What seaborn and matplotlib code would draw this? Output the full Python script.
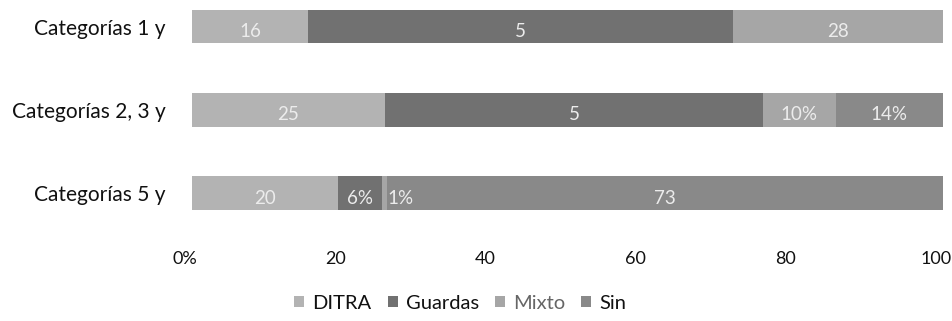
import numpy as np
import pandas as pd
import seaborn as sns
from matplotlib import pyplot as plt
from matplotlib.patches import Patch
from matplotlib.transforms import ScaledTranslation

sns.set_style("white")
plt.rcParams['font.family'] = ['Lato', 'DejaVu Sans']

categories = ['Categorías 1 y', 'Categorías 2, 3 y', 'Categorías 5 y']
series = ['DITRA', 'Guardas', 'Mixto', 'Sin']
ditra = [15.5, 25.7, 19.5]
guardas = [56.5, 50.3, 5.8]
mixto = [28, 9.7, 0.7]
sin = [0, 14.3, 74]
# labels as printed on the bars (some truncated in the original)
bar_labels = [
    ['16', '5', '28', ''],
    ['25', '5', '10%', '14%'],
    ['20', '6%', '1%', '73'],
]
tick_vals = [0, 20, 40, 60, 80, 100]
tick_labels = ['0%', '20', '40', '60', '80', '100']
legend_text_colors = ['#111111', '#111111', '#666666', '#111111']

colors = ['#b3b3b3', '#717171', '#a6a6a6', '#898989']

values = np.array([ditra, guardas, mixto, sin]).T
cum = values.cumsum(axis=1)

fig = plt.figure(figsize=(9.53, 3.21), dpi=100)
ax = fig.add_axes([0.2015, 0.308, 0.788, 0.686])

# stacked bars: draw cumulative totals from the last series back to the first
for j in reversed(range(len(series))):
    df = pd.DataFrame({'cat': categories, 'val': cum[:, j]})
    sns.barplot(data=df, x='val', y='cat', orient='h', color=colors[j],
                width=0.4, saturation=1, ax=ax, edgecolor='none')

for i in range(len(categories)):
    for j in range(len(series)):
        txt = bar_labels[i][j]
        if not txt:
            continue
        start = cum[i, j] - values[i, j]
        if values[i, j] < 3:
            ax.text(cum[i, j], i + 0.06, txt, ha='left', va='center',
                    color='#ececec', fontsize=13.5)
        else:
            ax.text(start + values[i, j] / 2, i + 0.06, txt, ha='center',
                    va='center', color='#ececec', fontsize=13.5)

ax.set_xlim(0, 100)
ax.set_ylim(2.35, -0.3)
ax.set_yticks(range(len(categories)))
ax.set_yticklabels(categories, fontsize=15, color='#111111')
ax.set_xticks(tick_vals)
ax.set_xticklabels(tick_labels, fontsize=13, color='#111111')
ax.tick_params(axis='x', length=0, pad=21)
ax.tick_params(axis='y', length=0, pad=19)
# tick labels in the original sit a little left of the gridpositions
shift = ScaledTranslation(-7 / 100, 0, fig.dpi_scale_trans)
for lab in ax.get_xticklabels():
    lab.set_transform(lab.get_transform() + shift)
ax.set_xlabel('')
ax.set_ylabel('')
sns.despine(ax=ax, left=True, bottom=True)

handles = [Patch(facecolor=c, edgecolor='none') for c in colors]
leg = fig.legend(handles, series, loc='center', bbox_to_anchor=(0.483, 0.055),
                 ncol=4, frameon=False, fontsize=14.5, handlelength=0.5,
                 handleheight=0.5, handletextpad=0.4, columnspacing=0.8)
for t, c in zip(leg.get_texts(), legend_text_colors):
    t.set_color(c)

fig.savefig('out.png', dpi=100)
